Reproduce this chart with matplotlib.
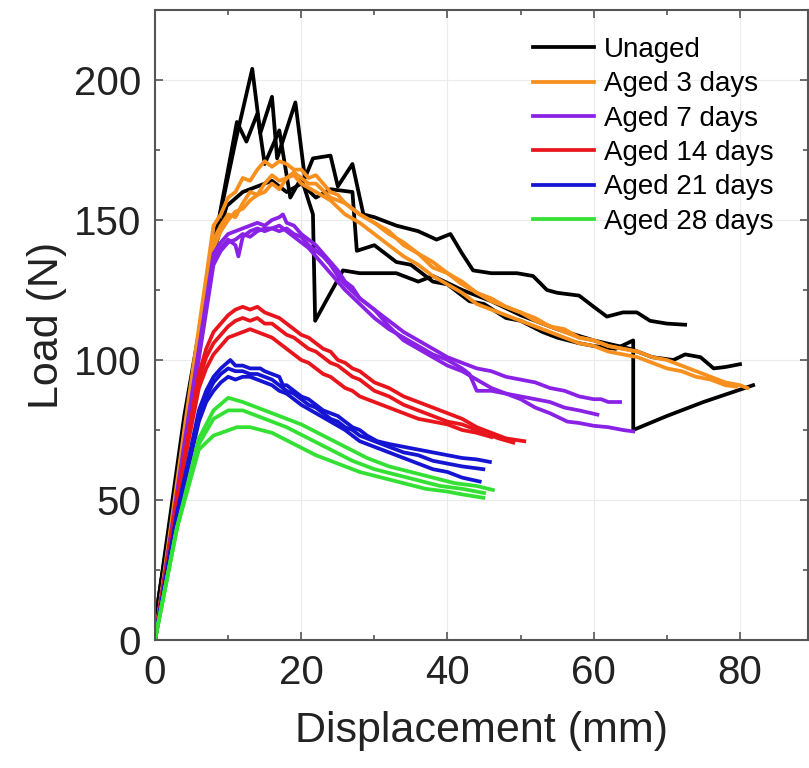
import matplotlib.pyplot as plt
from matplotlib.ticker import MultipleLocator

plt.rcParams['font.family'] = ['Liberation Sans', 'DejaVu Sans']

# Unaged (3 specimens)
unaged_1_x = [0, 0.5, 4, 8.5, 11, 13.3, 14.4, 16, 16.7, 19.2, 20.5, 21.6, 24, 25, 27, 28.5, 30, 33, 36, 38.5, 40.4, 42, 43.5, 46, 49.5, 51.7, 53.6, 55, 58, 60, 61.8, 64, 65.9, 67.7, 70, 72.5]
unaged_1_y = [0, 15, 80, 147, 178, 204, 181, 194, 172, 192, 165, 172, 173, 162, 170, 152, 151, 148, 146, 143, 145, 138, 132, 131, 131, 130, 125, 124, 123, 119, 115.5, 117, 117, 114, 113, 112.6]
unaged_2_x = [0, 0.5, 4, 8, 11.2, 12.5, 14, 15, 17, 18.5, 20, 21.6, 21.9, 25.7, 28, 33, 36, 38, 42, 46, 50, 55, 60, 65, 68, 70.9, 72.5, 74.6, 76.4, 78, 80]
unaged_2_y = [0, 15, 75, 140, 185, 178, 188, 170, 182, 158, 165, 152, 114, 132, 131, 131, 128, 130, 125, 121, 116, 111, 107, 104, 101, 100, 102, 101, 97, 97.5, 98.5]
unaged_3_x = [0, 0.5, 4, 8, 9.8, 12, 14, 16, 18, 20, 22, 24, 27, 27.6, 30, 33, 35, 38, 40, 43, 45, 48, 50, 53, 55, 58, 60, 63, 65.4, 65.4, 70, 75, 81.8]
unaged_3_y = [0, 15, 72, 138, 155, 160, 162, 164, 160, 163, 158, 161, 160, 139, 141, 135, 134, 128, 127, 121, 120, 115, 114, 110, 108, 106, 105, 104, 107, 75, 80, 85, 91]

# Aged 3 days
aged3_1_x = [0, 4, 8, 9, 10, 11, 12, 13, 14, 15, 16, 17, 18, 19, 20, 21, 22, 23, 24, 25, 26, 28, 30, 32, 34, 36, 38, 40, 42, 44, 46, 48, 50, 52, 54, 56, 58, 60, 62, 64, 66, 68, 70, 72, 74, 76, 78, 80, 81]
aged3_1_y = [0, 75, 148, 152, 158, 160, 165, 164, 168, 171, 169, 171, 170, 168, 168, 165, 166, 163, 160, 159, 156, 152, 149, 146, 141, 138, 133, 131, 127, 124, 121, 119, 117, 115, 112, 111, 108, 107, 105, 104, 103, 101, 100, 98, 96, 94, 92, 91, 90]
aged3_2_x = [0, 4, 8, 9, 10, 11, 12, 13, 14, 15, 16, 17, 18, 19, 20, 22, 24, 26, 28, 30, 32, 34, 36, 38, 40, 42, 44, 46, 48, 50, 52, 54, 56, 58, 60, 62, 64, 66, 68, 70, 72, 74, 76, 78, 79.5]
aged3_2_y = [0, 72, 143, 148, 152, 151, 156, 160, 159, 163, 166, 164, 165, 166, 163, 160, 157, 152, 149, 145, 141, 137, 134, 130, 127, 124, 120, 118, 116, 114, 112, 110, 108, 106, 105, 103, 102, 101, 99, 97, 96, 94, 93, 91, 90.5]
aged3_3_x = [0, 4, 8, 9, 10, 11, 12, 13, 14, 15, 16, 17, 18, 19, 20, 21, 22, 24, 26, 28, 30, 32, 34, 36, 38, 40, 42, 44, 46, 48, 50, 52, 54, 56, 58, 60, 62, 64, 66]
aged3_3_y = [0, 70, 140, 146, 150, 153, 154, 157, 159, 160, 163, 161, 165, 167, 165, 163, 163, 158, 156, 152, 149, 145, 142, 138, 135, 131, 128, 124, 122, 119, 117, 114, 112, 110, 108, 107, 105, 104, 103]

# Aged 7 days
aged7_1_x = [0, 4, 8, 9, 10, 11, 12, 13, 14, 15, 16, 17, 17.5, 18, 19, 20, 21, 22, 23, 24, 25, 26, 27, 28, 30, 32, 34, 36, 38, 40, 42, 44, 46, 48, 50, 52, 54, 56, 58, 60, 61, 62, 63.6]
aged7_1_y = [0, 70, 138, 142, 145, 146, 147, 148, 149, 148, 150, 151, 152, 149, 148, 145, 143, 141, 138, 135, 132, 128, 126, 122, 118, 114, 110, 107, 104, 101, 99, 97, 96, 94, 93, 92, 90, 89, 87, 86, 86, 85, 85]
aged7_2_x = [0, 4, 8, 9, 10, 11, 11.4, 12, 13, 14, 15, 16, 17, 18, 19, 20, 21, 22, 23, 24, 25, 26, 28, 30, 32, 34, 36, 38, 40, 42, 43, 44, 46, 48, 50, 52, 54, 56, 58, 60.5]
aged7_2_y = [0, 68, 136, 140, 143, 141, 137, 144, 146, 147, 146, 147, 148, 146, 144, 142, 140, 137, 134, 131, 128, 125, 120, 115, 111, 108, 105, 102, 100, 97, 95, 89, 89, 88, 87, 86, 85, 83, 82, 80.5]
aged7_3_x = [0, 4, 8, 9, 10, 11, 12, 13, 14, 15, 16, 17, 18, 19, 20, 21, 22, 23, 24, 25, 26, 28, 30, 32, 34, 36, 38, 40, 42, 44, 46, 48, 50, 52, 54, 56.4, 58, 60, 62, 64, 65.4]
aged7_3_y = [0, 67, 134, 139, 142, 143, 145, 144, 146, 147, 147, 146, 147, 145, 144, 141, 139, 137, 134, 130, 127, 122, 118, 112, 107, 104, 101, 98, 96, 93, 90, 88, 86, 83, 81, 78, 77.5, 76.5, 76, 75, 74.5]

# Aged 14 days
aged14_1_x = [0, 3, 6, 7, 8, 9, 10, 11, 12, 13, 14, 15, 16, 17, 18, 19, 20, 21, 22, 23, 24, 25, 26, 27, 28, 29, 30, 32, 34, 36, 38, 40, 42, 44, 46, 48, 50.5]
aged14_1_y = [0, 50, 95, 104, 110, 113, 116, 118, 119, 118, 119, 117, 116, 115, 113, 111, 109, 108, 106, 104, 103, 100, 99, 97, 96, 94, 92, 90, 87, 85, 83, 81, 79, 76, 74, 72, 71]
aged14_2_x = [0, 3, 6, 7, 8, 9, 10, 11, 12, 13, 14, 15, 16, 17, 18, 19, 20, 21, 22, 23, 24, 25, 26, 27, 28, 29, 30, 32, 34, 36, 38, 40, 42, 44, 46, 47, 49]
aged14_2_y = [0, 50, 93, 101, 106, 109, 112, 114, 115, 114, 115, 113, 113, 111, 109, 108, 106, 104, 103, 101, 99, 98, 96, 94, 93, 91, 89, 87, 84, 82, 80, 78, 77, 75, 73, 72, 70.5]
aged14_3_x = [0, 3, 6, 7, 8, 9, 10, 11, 12, 13, 14, 15, 16, 17, 18, 19, 20, 21, 22, 23, 24, 25, 26, 27, 28, 30, 32, 34, 36, 38, 40, 42, 44, 46]
aged14_3_y = [0, 50, 90, 97, 102, 105, 108, 109, 110, 111, 110, 109, 108, 106, 104, 102, 100, 99, 97, 95, 94, 92, 90, 89, 87, 85, 83, 81, 79, 78, 77, 75, 74, 72.5]

# Aged 21 days
aged21_1_x = [0, 3, 6, 7, 8, 9, 10.3, 11, 12, 13, 14.4, 15, 16, 17, 17.5, 18, 19, 20, 21, 22, 23, 24, 25, 26, 27, 28, 29, 30.4, 32, 34, 36, 38, 40, 42, 44, 45.8]
aged21_1_y = [0, 45, 82, 89, 94, 97, 100, 98, 98, 97, 97, 96, 95, 94, 91, 91, 89, 87, 86, 84, 82, 81, 80, 78, 76, 75, 73, 71, 70, 69, 68, 67, 66, 65, 64.5, 63.6]
aged21_2_x = [0, 3, 6, 7, 8, 9, 10, 11, 12, 13, 14, 15, 16, 17, 18, 19, 20, 21, 22, 23, 24, 25, 26, 27, 28, 30, 32, 34, 36, 38, 40, 42, 44.9]
aged21_2_y = [0, 45, 80, 87, 92, 95, 97, 96, 96, 95, 95, 94, 93, 91, 89, 88, 86, 84, 83, 81, 79, 78, 76, 75, 73, 71, 69, 67, 66, 64, 63, 62, 61]
aged21_3_x = [0, 3, 6, 7, 8, 9, 10, 11, 12, 13, 14, 15, 16, 17, 18, 19, 20, 22, 24, 26, 28, 30, 32, 34, 36, 38, 40, 42, 44.4]
aged21_3_y = [0, 44, 78, 85, 89, 92, 94, 93, 94, 94, 93, 92, 91, 89, 88, 86, 84, 81, 78, 75, 71, 69, 67, 65, 63, 61, 60, 58, 56.6]

# Aged 28 days
aged28_1_x = [0, 3, 6, 8, 10, 12, 14, 17, 20, 23, 26, 29, 32, 35, 38, 41, 44, 46.2]
aged28_1_y = [0, 40, 72, 82, 86.5, 85, 83, 80, 77, 73, 69, 65, 62, 60, 58, 56, 55, 53.6]
aged28_2_x = [0, 3, 6, 8, 10, 12, 15, 18, 21, 24, 27, 30, 33, 36, 39, 42, 45]
aged28_2_y = [0, 40, 70, 79, 82, 82, 79, 76, 72, 68, 64, 61, 59, 57, 55, 54, 52.5]
aged28_3_x = [0, 3, 6, 8, 11.2, 13, 16, 19, 22, 25, 28, 31, 34, 37, 40, 42, 44.9]
aged28_3_y = [0, 40, 68, 73, 76, 76, 74, 70, 66, 63, 60, 58, 56, 54, 53, 52, 50.8]

groups = [
    ('Unaged', '#000000', [(unaged_1_x, unaged_1_y), (unaged_2_x, unaged_2_y), (unaged_3_x, unaged_3_y)]),
    ('Aged 3 days', '#F7901E', [(aged3_1_x, aged3_1_y), (aged3_2_x, aged3_2_y), (aged3_3_x, aged3_3_y)]),
    ('Aged 7 days', '#8A22E6', [(aged7_1_x, aged7_1_y), (aged7_2_x, aged7_2_y), (aged7_3_x, aged7_3_y)]),
    ('Aged 14 days', '#E8161C', [(aged14_1_x, aged14_1_y), (aged14_2_x, aged14_2_y), (aged14_3_x, aged14_3_y)]),
    ('Aged 21 days', '#1414D2', [(aged21_1_x, aged21_1_y), (aged21_2_x, aged21_2_y), (aged21_3_x, aged21_3_y)]),
    ('Aged 28 days', '#33E033', [(aged28_1_x, aged28_1_y), (aged28_2_x, aged28_2_y), (aged28_3_x, aged28_3_y)]),
]

fig = plt.figure(figsize=(8.09, 7.68), dpi=100)
ax = fig.add_axes([155 / 809, 128 / 768, 653 / 809, 630 / 768])

for name, color, specimens in groups:
    for i, (xs, ys) in enumerate(specimens):
        ax.plot(xs, ys, color=color, lw=2.7, label=name if i == 0 else None)

ax.set_xlim(0, 89.3)
ax.set_ylim(0, 225)
ax.xaxis.set_major_locator(MultipleLocator(20))
ax.xaxis.set_minor_locator(MultipleLocator(10))
ax.yaxis.set_major_locator(MultipleLocator(50))
ax.yaxis.set_minor_locator(MultipleLocator(25))
ax.tick_params(which='both', direction='in', top=True, right=True, colors='#555555',
               labelcolor='#222222', labelsize=29, width=1.2)
ax.tick_params(which='major', length=6, pad=10)
ax.tick_params(which='minor', length=3.5)
ax.grid(True, which='major', color='#ebebeb', lw=0.8)
ax.set_axisbelow(True)
for s in ax.spines.values():
    s.set_color('#555555')
    s.set_linewidth(1.5)

ax.set_xlabel('Displacement (mm)', fontsize=31, color='#222222', labelpad=14)
ax.set_ylabel('Load (N)', fontsize=31, color='#222222', labelpad=5)

ax.legend(loc='upper left', bbox_to_anchor=(0.579, 0.957), frameon=False, fontsize=20,
          handlelength=2.2, handletextpad=0.35, labelspacing=0.30, borderpad=0, borderaxespad=0)

fig.savefig('out.png', dpi=100)
